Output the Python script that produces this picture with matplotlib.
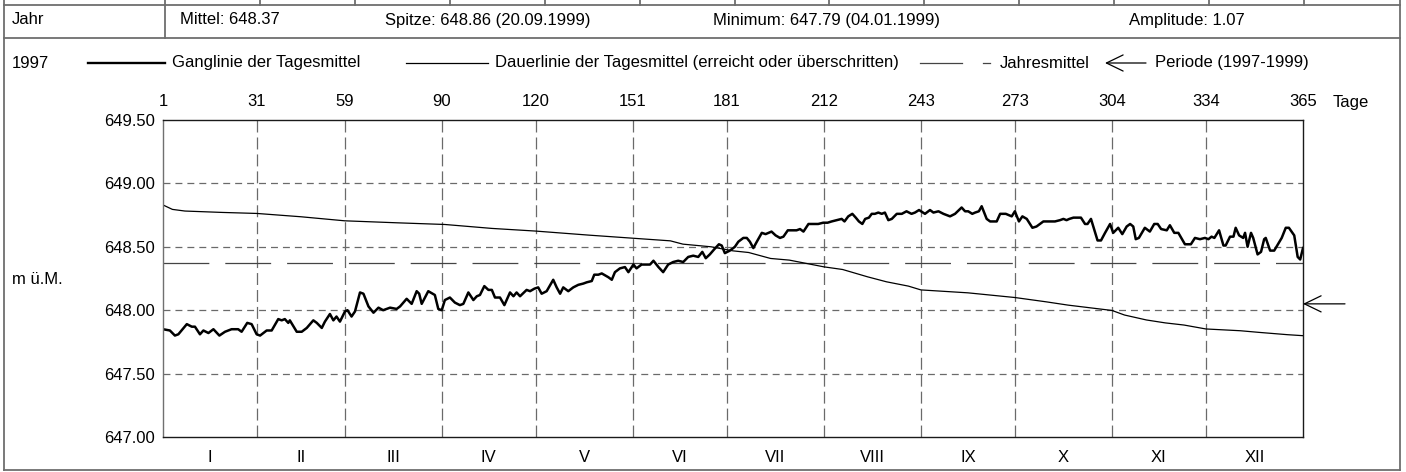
import matplotlib
matplotlib.use("Agg")
import matplotlib.pyplot as plt
from matplotlib.lines import Line2D
from matplotlib.patches import FancyArrowPatch

plt.rcParams["font.family"] = ["Liberation Sans", "DejaVu Sans"]
plt.rcParams["font.size"] = 12
plt.rcParams["lines.scale_dashes"] = False

# header values
jahr = "1997"
mittel = 648.37
spitze = 648.86
spitze_datum = "20.09.1999"
minimum = 647.79
minimum_datum = "04.01.1999"
amplitude = 1.07
periode = "1997-1999"
periode_mittel = 648.05

month_bounds = [1, 31, 59, 90, 120, 151, 181, 212, 243, 273, 304, 334, 365]
month_names = ["I", "II", "III", "IV", "V", "VI", "VII", "VIII", "IX", "X", "XI", "XII"]
y_ticks = [647.0, 647.5, 648.0, 648.5, 649.0, 649.5]

# Ganglinie der Tagesmittel (Tag, m u.M.)
gang_tag = [
    1, 3.2, 4.8, 5.9, 8.6, 10.2, 11.2, 12.8, 13.9, 15.5, 17.1, 19.0, 20.8, 22.9, 25.0, 26.1,
    27.9, 29.3, 30.9, 32.0, 34.1, 35.7, 37.8, 38.9, 39.9, 41.0, 41.5, 43.7, 45.3, 46.9, 49.0,
    50.1, 51.7, 52.7, 54.3, 55.4, 56.4, 57.5, 59.1, 59.9, 61.2, 62.3, 63.9, 65.0, 66.6, 68.2,
    69.8, 71.3, 73.5, 75.6, 76.7, 78.8, 80.4, 82.0, 82.8, 83.6, 85.7, 87.8, 88.9, 90.0,
    91.0, 92.6, 94.2, 95.8, 96.9, 98.5, 100.1, 101.2, 102.2, 103.6, 104.9, 106.0, 107.0, 108.6,
    110.0, 111.8, 112.9, 113.9, 115.0, 117.1, 118.2, 119.6, 120.8, 121.9, 123.5, 125.6, 126.7,
    127.8, 128.8, 130.4, 132.0, 133.6, 135.2, 136.3, 137.9, 138.7, 140.0, 141.1, 143.2, 144.3,
    145.3, 146.9, 148.5, 149.6, 151.2, 152.2, 153.8, 155.4, 156.5, 157.6, 159.2, 160.7, 162.3,
    163.9, 165.5, 167.1, 168.7, 170.3, 171.9, 173.2, 174.3, 175.6, 177.0, 178.5, 179.4, 180.4,
    182.0, 183.6, 184.7, 186.3, 187.4, 188.4, 189.5, 190.6, 192.2, 193.4, 195.3, 196.6, 198.0,
    199.1, 200.5, 201.7, 203.3, 204.4, 205.5, 207.1, 208.7, 210.2, 211.8, 213.2, 214.5, 216.1,
    217.7, 218.6, 219.8, 221.1, 222.2, 223.2, 224.3, 225.2, 226.4, 227.3, 228.3, 229.4, 230.5,
    231.5, 232.6, 233.7, 235.3, 236.9, 238.4, 240.0, 241.1, 242.4, 244.3, 245.9, 247.0, 248.6,
    250.2, 252.3, 253.9, 256.0, 257.1, 258.1, 259.4, 260.3, 261.5, 262.4, 264.0, 265.1, 267.2,
    268.3, 270.1, 272.0, 273.0, 274.3, 275.4, 276.8, 278.6, 279.9, 282.1, 283.7, 285.8, 287.4,
    288.5, 289.5, 290.4, 291.7, 293.3, 294.1, 295.4, 296.2, 297.3, 299.4, 300.5, 301.8, 303.4,
    304.4, 306.0, 307.3, 308.7, 309.8, 310.8, 311.6, 312.6, 314.5, 316.1, 317.5, 318.6, 319.7,
    321.5, 322.5, 323.9, 325.2, 327.3, 329.2, 330.5, 332.1, 333.7, 334.8, 335.8, 336.7, 338.2,
    339.6, 340.3, 341.7, 342.8, 343.5, 344.6, 345.9, 346.5, 347.3, 348.4, 349.1, 350.5, 351.6,
    352.6, 353.1, 354.5, 355.8, 358.2, 359.5, 360.5, 362.2, 363.3, 364.1, 365.0,
]
gang_wert = [
    647.85, 647.84, 647.80, 647.81, 647.89, 647.87, 647.87, 647.81, 647.84, 647.82, 647.85, 647.80,
    647.83, 647.85, 647.85, 647.83, 647.90, 647.89, 647.81, 647.80, 647.84, 647.84, 647.93, 647.92,
    647.93, 647.90, 647.92, 647.83, 647.83, 647.86, 647.92, 647.90, 647.86, 647.91, 647.97, 647.92,
    647.95, 647.91, 647.99, 648.00, 647.95, 647.99, 648.14, 648.13, 648.03, 647.98, 648.02, 648.00,
    648.02, 648.01, 648.03, 648.09, 648.05, 648.15, 648.13, 648.05, 648.15, 648.12, 648.01, 648.00,
    648.08, 648.10, 648.06, 648.04, 648.05, 648.14, 648.08, 648.11, 648.12, 648.19, 648.16, 648.16,
    648.10, 648.10, 648.04, 648.14, 648.11, 648.14, 648.11, 648.16, 648.15, 648.17, 648.18, 648.13,
    648.15, 648.24, 648.18, 648.13, 648.18, 648.15, 648.18, 648.20, 648.21, 648.22, 648.23, 648.28,
    648.28, 648.29, 648.26, 648.24, 648.30, 648.33, 648.34, 648.30, 648.36, 648.33, 648.36, 648.36,
    648.36, 648.39, 648.34, 648.30, 648.36, 648.38, 648.39, 648.38, 648.42, 648.43, 648.42, 648.46,
    648.41, 648.44, 648.48, 648.52, 648.51, 648.45, 648.47, 648.50, 648.54, 648.57, 648.57, 648.54,
    648.49, 648.54, 648.61, 648.60, 648.62, 648.59, 648.57, 648.58, 648.63, 648.63, 648.63, 648.64,
    648.62, 648.68, 648.68, 648.68, 648.69, 648.69, 648.70, 648.71, 648.72, 648.70, 648.74, 648.76,
    648.73, 648.70, 648.68, 648.72, 648.73, 648.76, 648.76, 648.77, 648.76, 648.77, 648.71, 648.72,
    648.76, 648.76, 648.78, 648.76, 648.77, 648.79, 648.76, 648.79, 648.77, 648.78, 648.76, 648.74,
    648.76, 648.81, 648.78, 648.78, 648.76, 648.77, 648.78, 648.82, 648.72, 648.70, 648.70, 648.76,
    648.76, 648.74, 648.78, 648.70, 648.74, 648.72, 648.65, 648.66, 648.70, 648.70, 648.70, 648.71,
    648.72, 648.71, 648.72, 648.73, 648.73, 648.73, 648.68, 648.68, 648.72, 648.55, 648.55, 648.61,
    648.68, 648.61, 648.65, 648.60, 648.66, 648.68, 648.66, 648.56, 648.57, 648.65, 648.62, 648.68,
    648.68, 648.64, 648.63, 648.67, 648.61, 648.61, 648.52, 648.52, 648.57, 648.56, 648.57, 648.56,
    648.58, 648.57, 648.63, 648.51, 648.51, 648.58, 648.58, 648.65, 648.59, 648.57, 648.61, 648.50,
    648.61, 648.57, 648.44, 648.46, 648.56, 648.57, 648.47, 648.47, 648.57, 648.65, 648.65, 648.59,
    648.42, 648.40, 648.49,
]

# Dauerlinie der Tagesmittel (erreicht oder ueberschritten)
dauer_tag = [1, 4, 8, 20, 31, 45, 59, 76, 91, 106, 120, 137, 152, 163, 167, 176, 183, 188, 195,
             201, 212, 218, 226, 232, 239, 243, 258, 273, 283, 290, 304, 308, 315, 321, 327, 334,
             345, 351, 360, 365]
dauer_wert = [648.83, 648.795, 648.782, 648.771, 648.763, 648.737, 648.705, 648.689, 648.676,
              648.645, 648.624, 648.592, 648.566, 648.547, 648.521, 648.500, 648.468, 648.455,
              648.408, 648.395, 648.342, 648.321, 648.263, 648.224, 648.190, 648.160, 648.137,
              648.100, 648.066, 648.040, 647.998, 647.962, 647.923, 647.900, 647.883, 647.852,
              647.838, 647.825, 647.807, 647.799]

W, H = 1406, 472
fig = plt.figure(figsize=(W / 100, H / 100), dpi=100)


def fx(x):
    return x / W


def fy(y):
    return 1 - y / H


def fline(xs, ys, **kw):
    fig.add_artist(Line2D([fx(x) for x in xs], [fy(y) for y in ys],
                          transform=fig.transFigure, **kw))


# table frame
frame = dict(color="#6e6e6e", lw=1.3)
fline([4, 1400], [5, 5], **frame)
fline([4, 1400], [38, 38], **frame)
fline([4, 1400], [470, 470], **frame)
fline([4, 4], [0, 470], **frame)
fline([1400, 1400], [0, 470], **frame)
fline([165, 165], [5, 38], **frame)
for i in range(13):
    xx = 165 + i * (1304 - 165) / 12
    fline([xx, xx], [0, 5], **frame)

# header row
hy = 20
fig.text(fx(12), fy(hy), "Jahr", va="center")
fig.text(fx(180), fy(hy), f"Mittel: {mittel:.2f}", va="center")
fig.text(fx(385), fy(hy), f"Spitze: {spitze:.2f} ({spitze_datum})", va="center")
fig.text(fx(713), fy(hy), f"Minimum: {minimum:.2f} ({minimum_datum})", va="center")
fig.text(fx(1129), fy(hy), f"Amplitude: {amplitude:.2f}", va="center")

# legend row
ly = 63
fig.text(fx(12), fy(ly), jahr, va="center")
fline([88, 165], [ly, ly], color="black", lw=1.7)
fig.text(fx(172), fy(ly), "Ganglinie der Tagesmittel", va="center")
fline([406, 488], [ly, ly], color="black", lw=0.9)
fig.text(fx(495), fy(ly), "Dauerlinie der Tagesmittel (erreicht oder überschritten)", va="center")
fline([920, 962], [ly, ly], color="#444444", lw=0.9)
fline([983, 990], [ly, ly], color="#444444", lw=0.9)
fig.text(fx(1000), fy(ly), "Jahresmittel", va="center")
fig.add_artist(FancyArrowPatch((fx(1146), fy(ly)), (fx(1105), fy(ly)), transform=fig.transFigure,
                               arrowstyle="->,head_length=12,head_width=5.8", mutation_scale=1,
                               color="black", lw=0.9, shrinkA=0, shrinkB=0))
fig.text(fx(1155), fy(ly), f"Periode ({periode})", va="center")

# chart
ax = fig.add_axes([fx(163), fy(437), (1303 - 163) / W, (437 - 120) / H])
ax.set_xlim(1, 365)
ax.set_ylim(647, 649.5)

grid = dict(color="#6a6a6a", lw=0.9)
for b in month_bounds[1:-1]:
    ax.axvline(b, dashes=(8.6, 3.6), **grid)
for v in y_ticks[1:-1]:
    ax.axhline(v, dashes=(5, 3.6), **grid)

ax.axhline(mittel, color="#444444", lw=0.9, dashes=(33, 11.5))
ax.plot(dauer_tag, dauer_wert, color="black", lw=0.9)
ax.plot(gang_tag, gang_wert, color="black", lw=1.8)

ax.annotate("", xy=(365, periode_mittel), xytext=(42, 0), textcoords="offset pixels",
            annotation_clip=False,
            arrowprops=dict(arrowstyle="->,head_length=12,head_width=5.8", mutation_scale=1,
                            color="black", lw=0.9, shrinkA=0, shrinkB=0))

ax.set_yticks(y_ticks)
ax.set_yticklabels([f"{v:.2f}" for v in y_ticks])
ax.tick_params(axis="y", length=0, pad=6)
ax.xaxis.tick_top()
ax.set_xticks(month_bounds)
ax.set_xticklabels([str(b) for b in month_bounds])
ax.tick_params(axis="x", length=0, pad=8)

centers = [(month_bounds[i] + month_bounds[i + 1]) / 2 for i in range(12)]
sec = ax.secondary_xaxis("bottom")
sec.set_xticks(centers)
sec.set_xticklabels(month_names)
sec.tick_params(length=0, pad=9)
sec.spines["bottom"].set_visible(False)

for s in ax.spines.values():
    s.set_color("#1a1a1a")
    s.set_linewidth(1.0)
ax.spines["left"].set_color("#707070")

fig.text(fx(1333), fy(103), "Tage", va="center")
fig.text(fx(12), fy(280), "m ü.M.", va="center")

fig.savefig("out.png", dpi=100)
